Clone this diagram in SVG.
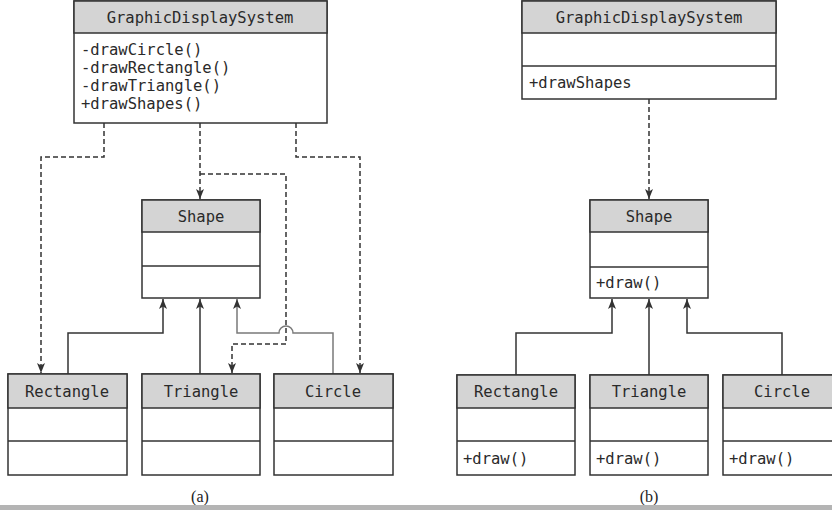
<svg xmlns="http://www.w3.org/2000/svg" width="832" height="510" viewBox="0 0 832 510">
<style>
.box{fill:#fff;stroke:#333;stroke-width:1.5}
.hdr{fill:#d4d4d4;stroke:#333;stroke-width:1.5}
.div{stroke:#333;stroke-width:1.5}
.t{font-family:"DejaVu Sans Mono","Liberation Mono",monospace;font-size:15.5px;fill:#2a2a2a}
.c{text-anchor:middle}
.cap{font-family:"Liberation Serif",serif;font-size:16px;fill:#222;text-anchor:middle}
.dash{fill:none;stroke:#333;stroke-width:1.5;stroke-dasharray:5 3}
.solid{fill:none;stroke:#333;stroke-width:1.5}
.gray{fill:none;stroke:#7a7a7a;stroke-width:1.5}
</style>
<defs>
<marker id="ar" markerUnits="userSpaceOnUse" markerWidth="10" markerHeight="8" refX="10" refY="4" orient="auto">
<path d="M0,0 L10,4 L0,8 L2.5,4 z" fill="#333"/>
</marker>
</defs>
<rect width="832" height="510" fill="#fff"/>

<g id="connectors">
<path class="dash" d="M104,123 V157 H41 V373" marker-end="url(#ar)"/>
<path class="dash" d="M200,123 V199" marker-end="url(#ar)"/>
<path class="dash" d="M200,174 H286 V344 H232 V373" marker-end="url(#ar)"/>
<path class="dash" d="M296,123 V157 H360 V373" marker-end="url(#ar)"/>
<path class="solid" d="M68,374 V333 H163 V299" marker-end="url(#ar)"/>
<path class="solid" d="M200,374 V299" marker-end="url(#ar)"/>
<path class="gray" d="M333,374 V333 H293 A7,7 0 0 0 279,333 H237 V299" marker-end="url(#ar)"/>
<path class="dash" d="M649,99 V199" marker-end="url(#ar)"/>
<path class="solid" d="M516,375 V333 H612 V299" marker-end="url(#ar)"/>
<path class="solid" d="M649,375 V299" marker-end="url(#ar)"/>
<path class="solid" d="M782,375 V333 H687 V299" marker-end="url(#ar)"/>
</g>

<g id="gds-a">
<rect class="box" x="74" y="1" width="253" height="122"/>
<rect class="hdr" x="74" y="1" width="253" height="32"/>
<text class="t c" x="200" y="23">GraphicDisplaySystem</text>
<text class="t" x="81" y="55">-drawCircle()</text>
<text class="t" x="81" y="73">-drawRectangle()</text>
<text class="t" x="81" y="91">-drawTriangle()</text>
<text class="t" x="81" y="109">+drawShapes()</text>
</g>

<g id="shape-a">
<rect class="box" x="142" y="200" width="118" height="98"/>
<rect class="hdr" x="142" y="200" width="118" height="32"/>
<line class="div" x1="142" y1="266" x2="260" y2="266"/>
<text class="t c" x="201" y="222">Shape</text>
</g>

<g id="rectangle-a">
<rect class="box" x="8" y="374" width="119" height="101"/>
<rect class="hdr" x="8" y="374" width="119" height="34"/>
<line class="div" x1="8" y1="441" x2="127" y2="441"/>
<text class="t c" x="67" y="397">Rectangle</text>
</g>

<g id="triangle-a">
<rect class="box" x="142" y="374" width="118" height="101"/>
<rect class="hdr" x="142" y="374" width="118" height="34"/>
<line class="div" x1="142" y1="441" x2="260" y2="441"/>
<text class="t c" x="201" y="397">Triangle</text>
</g>

<g id="circle-a">
<rect class="box" x="274" y="374" width="119" height="101"/>
<rect class="hdr" x="274" y="374" width="119" height="34"/>
<line class="div" x1="274" y1="441" x2="393" y2="441"/>
<text class="t c" x="333" y="397">Circle</text>
</g>

<text class="cap" x="200" y="502">(a)</text>

<g id="gds-b">
<rect class="box" x="522" y="1" width="254" height="98"/>
<rect class="hdr" x="522" y="1" width="254" height="32"/>
<line class="div" x1="522" y1="66" x2="776" y2="66"/>
<text class="t c" x="649" y="23">GraphicDisplaySystem</text>
<text class="t" x="529" y="88">+drawShapes</text>
</g>

<g id="shape-b">
<rect class="box" x="590" y="200" width="118" height="98"/>
<rect class="hdr" x="590" y="200" width="118" height="32"/>
<line class="div" x1="590" y1="267" x2="708" y2="267"/>
<text class="t c" x="649" y="222">Shape</text>
<text class="t" x="596" y="288">+draw()</text>
</g>

<g id="rectangle-b">
<rect class="box" x="457" y="375" width="118" height="100"/>
<rect class="hdr" x="457" y="375" width="118" height="33"/>
<line class="div" x1="457" y1="441" x2="575" y2="441"/>
<text class="t c" x="516" y="397">Rectangle</text>
<text class="t" x="463" y="464">+draw()</text>
</g>

<g id="triangle-b">
<rect class="box" x="590" y="375" width="118" height="100"/>
<rect class="hdr" x="590" y="375" width="118" height="33"/>
<line class="div" x1="590" y1="441" x2="708" y2="441"/>
<text class="t c" x="649" y="397">Triangle</text>
<text class="t" x="596" y="464">+draw()</text>
</g>

<g id="circle-b">
<rect class="box" x="723" y="375" width="118" height="100"/>
<rect class="hdr" x="723" y="375" width="118" height="33"/>
<line class="div" x1="723" y1="441" x2="841" y2="441"/>
<text class="t c" x="782" y="397">Circle</text>
<text class="t" x="729" y="464">+draw()</text>
</g>

<text class="cap" x="649" y="502">(b)</text>

<rect x="0" y="505" width="832" height="5" fill="#b4b4b4"/>
</svg>
